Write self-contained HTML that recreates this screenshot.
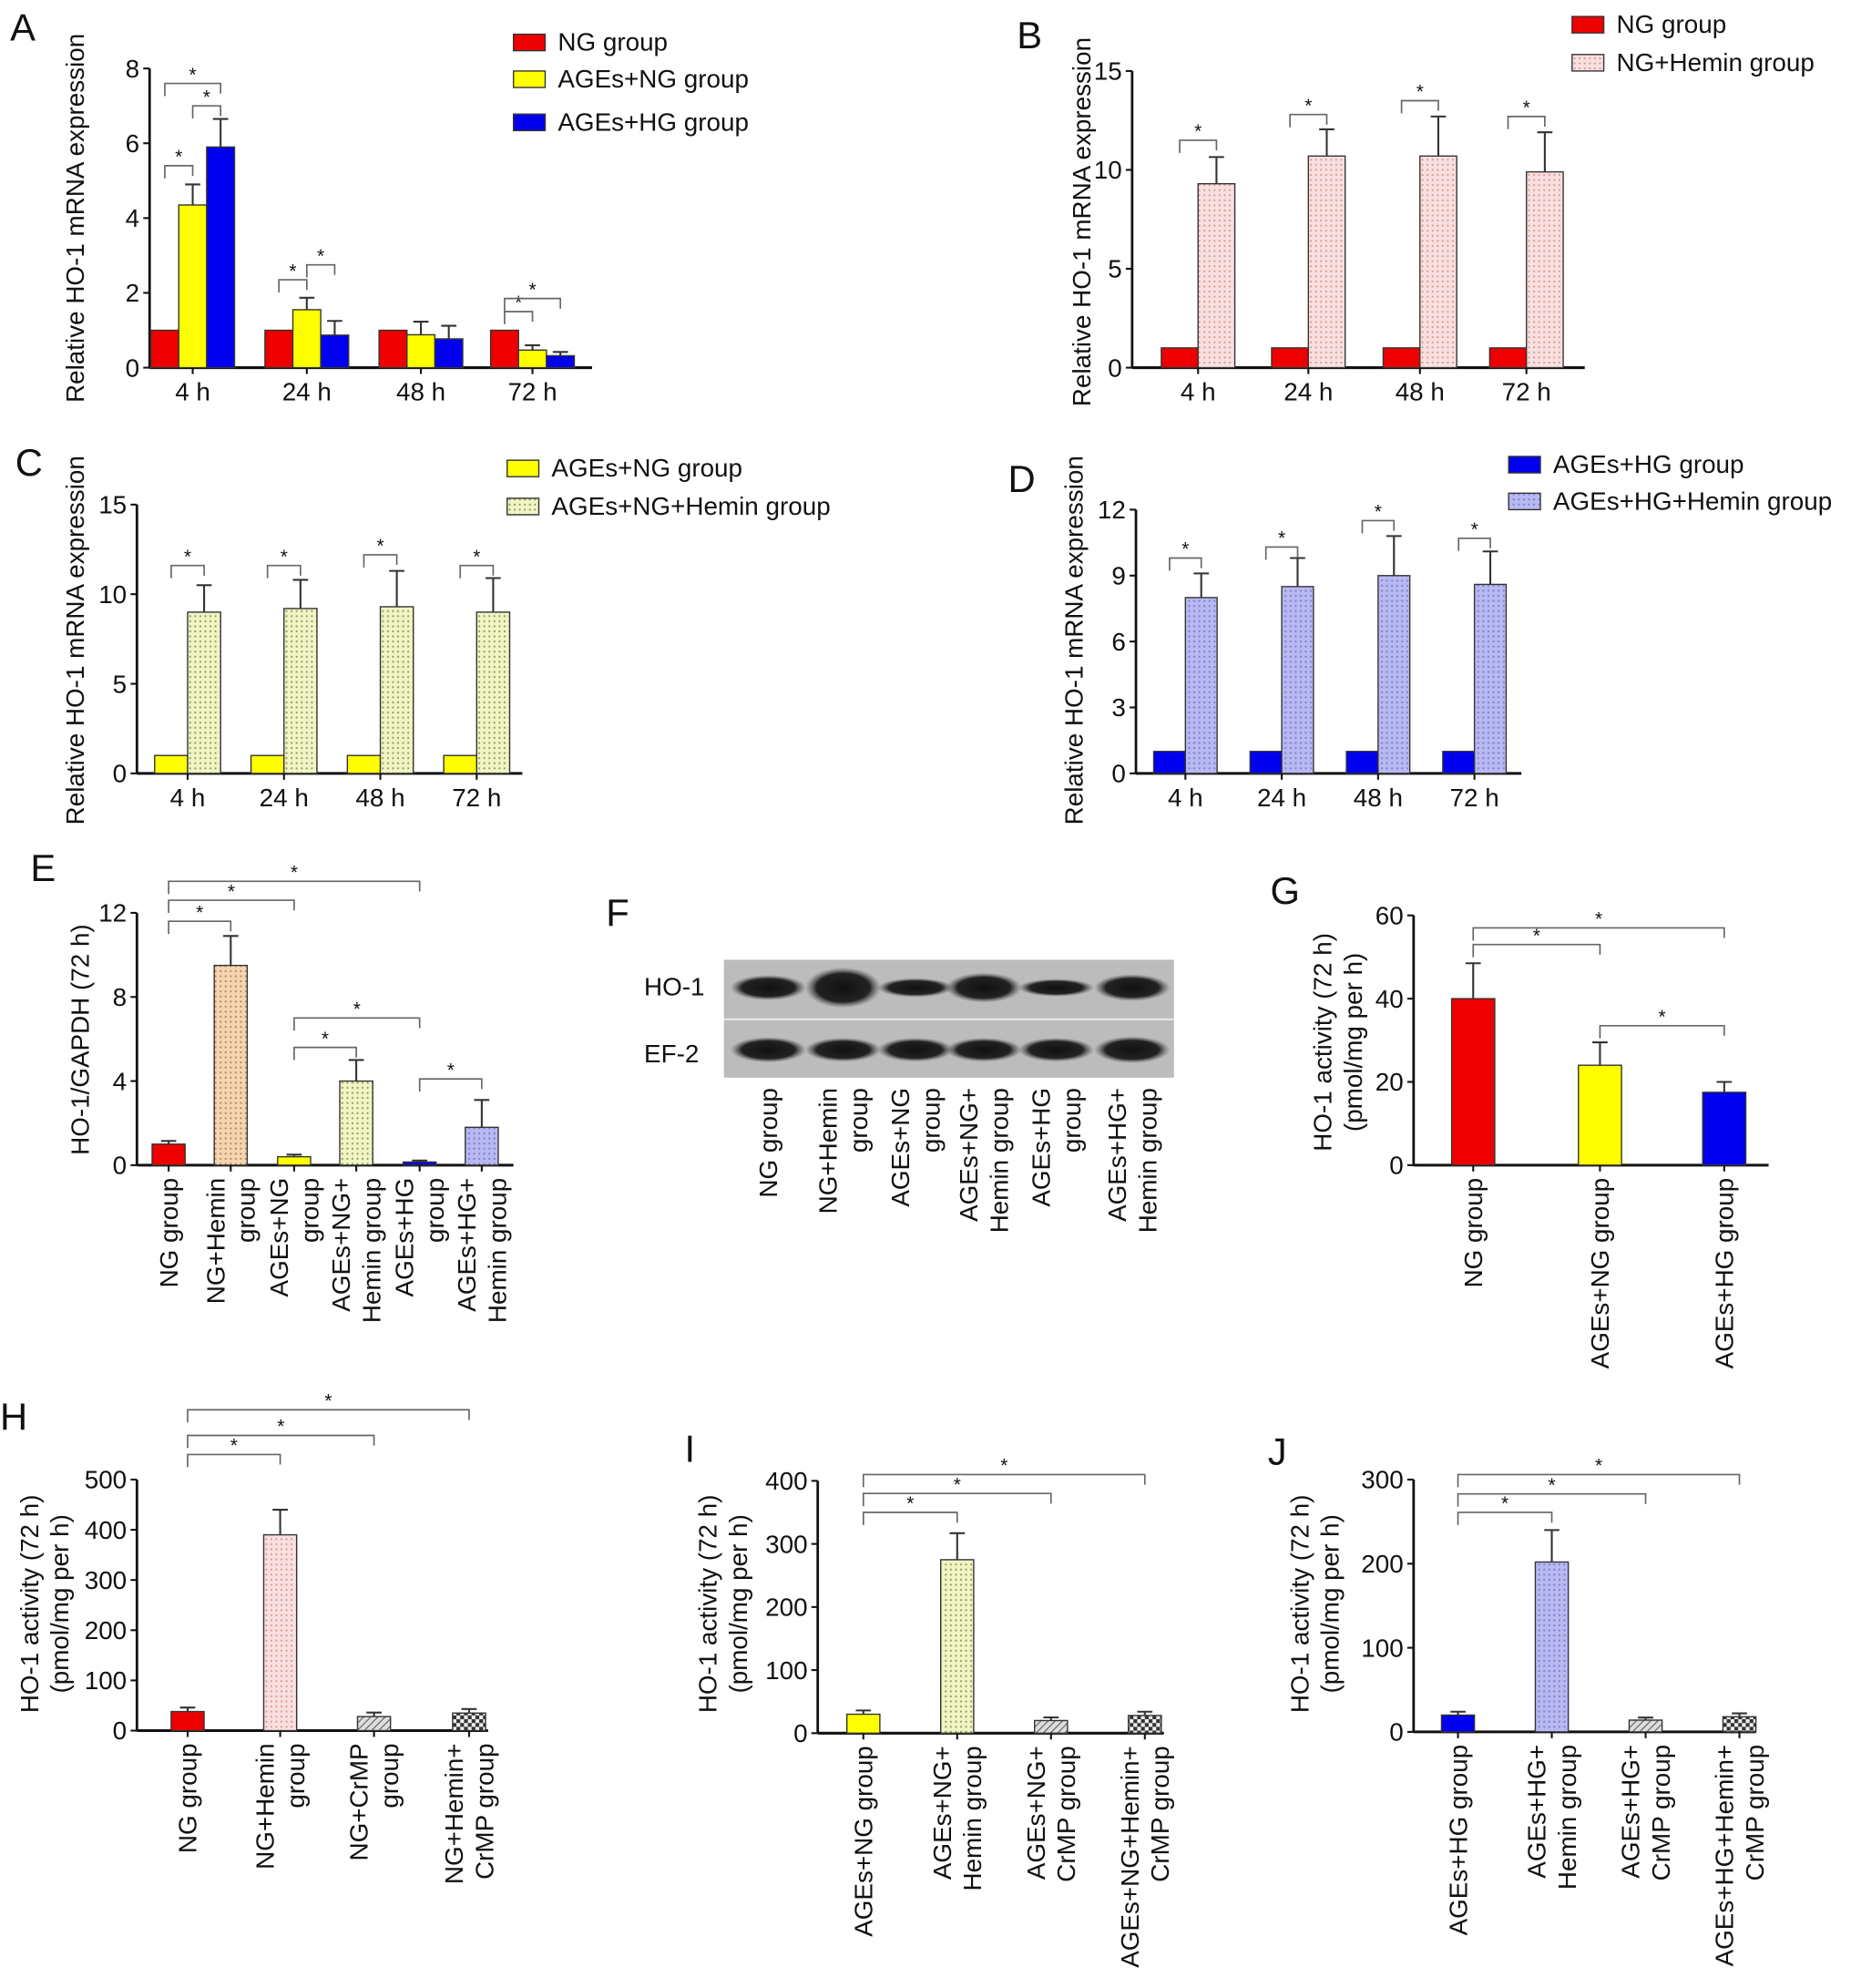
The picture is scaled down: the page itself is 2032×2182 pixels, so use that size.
<!DOCTYPE html>
<html><head><meta charset="utf-8">
<style>
html,body{margin:0;padding:0;background:#fff;}
svg{display:block;font-family:"Liberation Sans",Arial,sans-serif;}
</style></head>
<body>
<svg id="fig" width="2032" height="2182" viewBox="0 0 1460 1568" preserveAspectRatio="none" xmlns="http://www.w3.org/2000/svg">
<defs>
<pattern id="pinkDots" width="4" height="4" patternUnits="userSpaceOnUse"><rect width="4" height="4" fill="#f9e0e0"/><circle cx="2" cy="2" r="0.8" fill="#d99"/></pattern>
<pattern id="greenDots" width="4" height="4" patternUnits="userSpaceOnUse"><rect width="4" height="4" fill="#f0f5c4"/><circle cx="2" cy="2" r="0.8" fill="#9a9a60"/></pattern>
<pattern id="lavDots" width="4" height="4" patternUnits="userSpaceOnUse"><rect width="4" height="4" fill="#b8b8f2"/><circle cx="2" cy="2" r="0.8" fill="#8080c8"/></pattern>
<pattern id="orangeDots" width="4" height="4" patternUnits="userSpaceOnUse"><rect width="4" height="4" fill="#f6d4ae"/><circle cx="2" cy="2" r="0.8" fill="#b08a6a"/></pattern>
<pattern id="hatch" width="4" height="4" patternUnits="userSpaceOnUse" patternTransform="rotate(45)"><rect width="4" height="4" fill="#ddd"/><line x1="0" y1="0" x2="0" y2="4" stroke="#555" stroke-width="1.5"/></pattern>
<pattern id="check" width="6" height="6" patternUnits="userSpaceOnUse"><rect width="6" height="6" fill="#eee"/><rect width="3" height="3" fill="#333"/><rect x="3" y="3" width="3" height="3" fill="#333"/></pattern>
<radialGradient id="band"><stop offset="0" stop-color="#111"/><stop offset="0.7" stop-color="#222"/><stop offset="1" stop-color="#555" stop-opacity="0"/></radialGradient>
</defs>
<g id="root"></g>
</svg>
<script>
// ---- data ----
var timeCats = ["4 h", "24 h", "48 h", "72 h"];
var aNG = [1, 1, 1, 1];
var aAgesNG = [4.35, 1.55, 0.88, 0.47];
var aAgesHG = [5.9, 0.87, 0.77, 0.32];
var aErrNG = [0, 0, 0, 0];
var aErrAgesNG = [0.55, 0.32, 0.35, 0.13];
var aErrAgesHG = [0.75, 0.38, 0.35, 0.1];
var aTicks = [0, 2, 4, 6, 8];
var bNG = [1, 1, 1, 1];
var bHemin = [9.3, 10.7, 10.7, 9.9];
var bErr = [1.35, 1.35, 2.0, 2.0];
var bTicks = [0, 5, 10, 15];
var cAgesNG = [1, 1, 1, 1];
var cHemin = [9.0, 9.2, 9.3, 9.0];
var cErr = [1.5, 1.6, 2.0, 1.9];
var cTicks = [0, 5, 10, 15];
var dAgesHG = [1, 1, 1, 1];
var dHemin = [8.0, 8.5, 9.0, 8.6];
var dErr = [1.1, 1.3, 1.8, 1.5];
var dTicks = [0, 3, 6, 9, 12];
var eCats = [["NG group"], ["NG+Hemin", "group"], ["AGEs+NG", "group"], ["AGEs+NG+", "Hemin group"], ["AGEs+HG", "group"], ["AGEs+HG+", "Hemin group"]];
var eVals = [1, 9.5, 0.4, 4.0, 0.15, 1.8];
var eErr = [0.15, 1.4, 0.1, 1.0, 0.07, 1.3];
var eTicks = [0, 4, 8, 12];
var gCats = [["NG group"], ["AGEs+NG group"], ["AGEs+HG group"]];
var gVals = [40, 24, 17.5];
var gErr = [8.5, 5.5, 2.5];
var gTicks = [0, 20, 40, 60];
var hCats = [["NG group"], ["NG+Hemin", "group"], ["NG+CrMP", "group"], ["NG+Hemin+", "CrMP group"]];
var hVals = [38, 390, 28, 35];
var hErr = [8, 50, 8, 8];
var hTicks = [0, 100, 200, 300, 400, 500];
var iCats = [["AGEs+NG group"], ["AGEs+NG+", "Hemin group"], ["AGEs+NG+", "CrMP group"], ["AGEs+NG+Hemin+", "CrMP group"]];
var iVals = [30, 275, 20, 28];
var iErr = [6, 42, 5, 6];
var iTicks = [0, 100, 200, 300, 400];
var jCats = [["AGEs+HG group"], ["AGEs+HG+", "Hemin group"], ["AGEs+HG+", "CrMP group"], ["AGEs+HG+Hemin+", "CrMP group"]];
var jVals = [20, 202, 14, 18];
var jErr = [4, 38, 3, 4];
var jTicks = [0, 100, 200, 300];
var blotLanes = [["NG group"], ["NG+Hemin", "group"], ["AGEs+NG", "group"], ["AGEs+NG+", "Hemin group"], ["AGEs+HG", "group"], ["AGEs+HG+", "Hemin group"]];
var blotHO1 = [0.5, 1.0, 0.3, 0.65, 0.25, 0.55];
var blotEF2 = [0.55, 0.5, 0.5, 0.5, 0.5, 0.6];

// ---- helpers ----
var NS = "http://www.w3.org/2000/svg";
var root = document.getElementById("root");
function mk(tag, attrs, parent) {
  var e = document.createElementNS(NS, tag);
  for (var k in attrs) e.setAttribute(k, attrs[k]);
  (parent || root).appendChild(e);
  return e;
}
function txt(s, x, y, size, anchor, parent, name) {
  var t = mk("text", {x: x, y: y, "font-size": size, "text-anchor": anchor || "middle", fill: "#111"}, parent);
  t.textContent = s;
  
  
  return t;
}
function makeAxis(cfg) {
  var g = mk("g", {});
  
  
  var max = cfg.ticks[cfg.ticks.length - 1];
  var sy = function (v) { return cfg.y0 - (v / max) * (cfg.y0 - cfg.yTop); };
  var yl = mk("line", {x1: cfg.ax, y1: cfg.yTop, x2: cfg.ax, y2: cfg.y0, stroke: "#111", "stroke-width": 2}, g);
  
  
  var xl = mk("line", {x1: cfg.ax, y1: cfg.y0, x2: cfg.xEnd, y2: cfg.y0, stroke: "#111", "stroke-width": 2.2}, g);
  
  
  cfg.ticks.forEach(function (t) {
    var tk = mk("line", {x1: cfg.ax - 5, y1: sy(t), x2: cfg.ax, y2: sy(t), stroke: "#111", "stroke-width": 1.5}, g);
    
    
    txt(String(t), cfg.ax - 8, sy(t) + 7, 20, "end", g, 'y-tick-label');
  });
  cfg.title.forEach(function (s, i) {
    var t = mk("text", {x: 0, y: 0, "font-size": 20, "text-anchor": "middle", fill: "#111",
      transform: "translate(" + (cfg.titleX + i * 24) + "," + cfg.titleY + ") rotate(-90)"}, g);
    t.textContent = s;
    
    
  });
  txt(cfg.letter, cfg.lx, cfg.ly, 30, "start", g, 'panel-letter');
  return {g: g, sy: sy};
}
function bar(g, sy, cx, w, v, err, fill, name) {
  var top = sy(v), y0 = sy(0);
  var r = mk("rect", {x: cx - w / 2, y: top, width: w, height: y0 - top, fill: fill, stroke: "#333", "stroke-width": 1}, g);
  
  
  if (err > 0) {
    var et = sy(v + err);
    var e1 = mk("path", {d: "M" + cx + "," + top + "V" + et + "M" + (cx - 6) + "," + et + "H" + (cx + 6), stroke: "#333", "stroke-width": 1.5, fill: "none"}, g);
    
    
  }
}
function bracket(g, sy, x1, x2, v) {
  var y = sy(v);
  var p = mk("path", {d: "M" + x1 + "," + (y + 10) + "V" + y + "H" + x2 + "V" + (y + 8), stroke: "#666", "stroke-width": 1.2, fill: "none"}, g);
  
  
  txt("*", (x1 + x2) / 2, y - 2, 15, "middle", g, 'significance-star');
}
function legend(g, x, y, fill, label, name) {
  var r = mk("rect", {x: x, y: y, width: 25, height: 13, fill: fill, stroke: "#333", "stroke-width": 1}, g);
  
  
  txt(label, x + 35, y + 13, 20, "start", g, name + '-label');
}
function grouped(cfg, series, errs, fills, bw, groups, br) {
  var A = makeAxis(cfg);
  var n = series.length;
  groups.forEach(function (gc, i) {
    series.forEach(function (s, k) {
      var cx = gc + (k - (n - 1) / 2) * bw;
      bar(A.g, A.sy, cx, bw, s[i], errs[k][i], fills[k], 'bar-' + timeCats[i].replace(' ', '') + '-s' + k);
    });
    var tk = mk("line", {x1: gc, y1: cfg.y0, x2: gc, y2: cfg.y0 + 5, stroke: "#111", "stroke-width": 1.5}, A.g);
    
    
    txt(timeCats[i], gc, cfg.y0 + 26, 20, "middle", A.g, 'x-tick-label');
  });
  br.forEach(function (b) {
    var gc = groups[b[0]];
    bracket(A.g, A.sy, gc + (b[1] - (n - 1) / 2) * bw, gc + (b[2] - (n - 1) / 2) * bw, b[3]);
  });
  return A;
}
function catLabels(g, cx, y, L) {
  L.forEach(function (s, li) {
    var off = (li - (L.length - 1) / 2) * 24;
    var t = mk("text", {x: 0, y: 0, "font-size": 20, "text-anchor": "end", fill: "#111",
      transform: "translate(" + (cx + off + 7) + "," + y + ") rotate(-90)"}, g);
    t.textContent = s;
    
    
  });
}
function single(cfg, cats, vals, errs, fills, bw, centers, br) {
  var A = makeAxis(cfg);
  centers.forEach(function (cx, i) {
    bar(A.g, A.sy, cx, bw, vals[i], errs[i], fills[i], 'bar-' + cats[i].join(' ').replace(/[^A-Za-z]+/g, '-').toLowerCase());
    var tk = mk("line", {x1: cx, y1: cfg.y0, x2: cx, y2: cfg.y0 + 5, stroke: "#111", "stroke-width": 1.5}, A.g);
    
    
    catLabels(A.g, cx, cfg.y0 + 10, cats[i]);
  });
  br.forEach(function (b) { bracket(A.g, A.sy, centers[b[0]], centers[b[1]], b[2]); });
  return A;
}
var RED = "#ee0000", YEL = "#ffff00", BLU = "#0000ee";

var pA = grouped({name: "panel-a", ax: 118, y0: 290, yTop: 54, xEnd: 467, ticks: aTicks, title: ["Relative HO-1 mRNA expression"], titleX: 66, titleY: 172, letter: "A", lx: 8, ly: 32},
  [aNG, aAgesNG, aAgesHG], [aErrNG, aErrAgesNG, aErrAgesHG], [RED, YEL, BLU], 22, [152, 242, 332, 420],
  [[0, 0, 1, 5.4], [0, 0, 2, 7.6], [0, 1, 2, 7.0], [1, 0, 1, 2.35], [1, 1, 2, 2.75], [3, 0, 1, 1.5], [3, 0, 2, 1.85]]);
legend(pA.g, 405, 27, RED, "NG group", "legend-ng");
legend(pA.g, 405, 56, YEL, "AGEs+NG group", "legend-ages-ng");
legend(pA.g, 405, 90, BLU, "AGEs+HG group", "legend-ages-hg");

var pB = grouped({name: "panel-b", ax: 893, y0: 290, yTop: 56, xEnd: 1250, ticks: bTicks, title: ["Relative HO-1 mRNA expression"], titleX: 860, titleY: 175, letter: "B", lx: 802, ly: 38},
  [bNG, bHemin], [aErrNG, bErr], [RED, "url(#pinkDots)"], 29, [945, 1032, 1120, 1204],
  [[0, 0, 1, 11.5], [1, 0, 1, 12.8], [2, 0, 1, 13.5], [3, 0, 1, 12.7]]);
legend(pB.g, 1240, 13, RED, "NG group", "legend-ng");
legend(pB.g, 1240, 43, "url(#pinkDots)", "NG+Hemin group", "legend-ng-hemin");

var pC = grouped({name: "panel-c", ax: 108, y0: 610, yTop: 398, xEnd: 412, ticks: cTicks, title: ["Relative HO-1 mRNA expression"], titleX: 66, titleY: 505, letter: "C", lx: 12, ly: 375},
  [cAgesNG, cHemin], [aErrNG, cErr], [YEL, "url(#greenDots)"], 26, [148, 224, 300, 376],
  [[0, 0, 1, 11.6], [1, 0, 1, 11.6], [2, 0, 1, 12.2], [3, 0, 1, 11.6]]);
legend(pC.g, 400, 363, YEL, "AGEs+NG group", "legend-ages-ng");
legend(pC.g, 400, 393, "url(#greenDots)", "AGEs+NG+Hemin group", "legend-ages-ng-hemin");

var pD = grouped({name: "panel-d", ax: 896, y0: 610, yTop: 402, xEnd: 1200, ticks: dTicks, title: ["Relative HO-1 mRNA expression"], titleX: 854, titleY: 505, letter: "D", lx: 795, ly: 388},
  [dAgesHG, dHemin], [aErrNG, dErr], [BLU, "url(#lavDots)"], 25, [935, 1011, 1087, 1163],
  [[0, 0, 1, 9.8], [1, 0, 1, 10.3], [2, 0, 1, 11.5], [3, 0, 1, 10.7]]);
legend(pD.g, 1190, 360, BLU, "AGEs+HG group", "legend-ages-hg");
legend(pD.g, 1190, 389, "url(#lavDots)", "AGEs+HG+Hemin group", "legend-ages-hg-hemin");

single({name: "panel-e", ax: 108, y0: 919, yTop: 720, xEnd: 405, ticks: eTicks, title: ["HO-1/GAPDH (72 h)"], titleX: 70, titleY: 820, letter: "E", lx: 24, ly: 695},
  eCats, eVals, eErr, [RED, "url(#orangeDots)", YEL, "url(#greenDots)", BLU, "url(#lavDots)"], 26, [133, 182, 232, 281, 331, 380],
  [[0, 1, 11.6], [0, 2, 12.6], [0, 4, 13.5], [2, 3, 5.6], [2, 4, 7.0], [4, 5, 4.1]]);

single({name: "panel-g", ax: 1115, y0: 919, yTop: 722, xEnd: 1395, ticks: gTicks, title: ["HO-1 activity (72 h)", "(pmol/mg per h)"], titleX: 1050, titleY: 822, letter: "G", lx: 1002, ly: 713},
  gCats, gVals, gErr, [RED, YEL, BLU], 34, [1162, 1262, 1360],
  [[0, 1, 53], [0, 2, 57], [1, 2, 33.5]]);

single({name: "panel-h", ax: 108, y0: 1365, yTop: 1167, xEnd: 385, ticks: hTicks, title: ["HO-1 activity (72 h)", "(pmol/mg per h)"], titleX: 30, titleY: 1265, letter: "H", lx: 0, ly: 1128},
  hCats, hVals, hErr, [RED, "url(#pinkDots)", "url(#hatch)", "url(#check)"], 26, [148, 221, 295, 370],
  [[0, 1, 550], [0, 2, 588], [0, 3, 639]]);

single({name: "panel-i", ax: 645, y0: 1367, yTop: 1168, xEnd: 918, ticks: iTicks, title: ["HO-1 activity (72 h)", "(pmol/mg per h)"], titleX: 565, titleY: 1265, letter: "I", lx: 540, ly: 1153},
  iCats, iVals, iErr, [YEL, "url(#greenDots)", "url(#hatch)", "url(#check)"], 26, [681, 755, 829, 903],
  [[0, 1, 350], [0, 2, 380], [0, 3, 410]]);

single({name: "panel-j", ax: 1115, y0: 1366, yTop: 1167, xEnd: 1385, ticks: jTicks, title: ["HO-1 activity (72 h)", "(pmol/mg per h)"], titleX: 1032, titleY: 1265, letter: "J", lx: 1000, ly: 1155},
  jCats, jVals, jErr, [BLU, "url(#lavDots)", "url(#hatch)", "url(#check)"], 26, [1150, 1224, 1298, 1372],
  [[0, 1, 261], [0, 2, 283], [0, 3, 306]]);

// Panel F (western blot)
var gF = mk("g", {});


txt("F", 478, 730, 30, "start", gF, 'panel-letter');
var bg = mk("rect", {x: 571, y: 757, width: 355, height: 93, fill: "#bcbcbc"}, gF);


var sep = mk("line", {x1: 571, y1: 804, x2: 926, y2: 804, stroke: "#e8e8e8", "stroke-width": 1.5}, gF);


txt("HO-1", 508, 785, 20, "start", gF, 'blot-row-label');
txt("EF-2", 508, 838, 20, "start", gF, 'blot-row-label');
var laneX = [606, 665, 722, 776, 833, 893];
blotLanes.forEach(function (L, i) {
  var b1 = mk("ellipse", {cx: laneX[i], cy: 779, rx: 30, ry: 4 + 12 * blotHO1[i], fill: "url(#band)"}, gF);
  
  
  var b2 = mk("ellipse", {cx: laneX[i], cy: 828, rx: 30, ry: 4 + 11 * blotEF2[i], fill: "url(#band)"}, gF);
  
  
  catLabels(gF, laneX[i], 858, L);
});
</script>
</body></html>
